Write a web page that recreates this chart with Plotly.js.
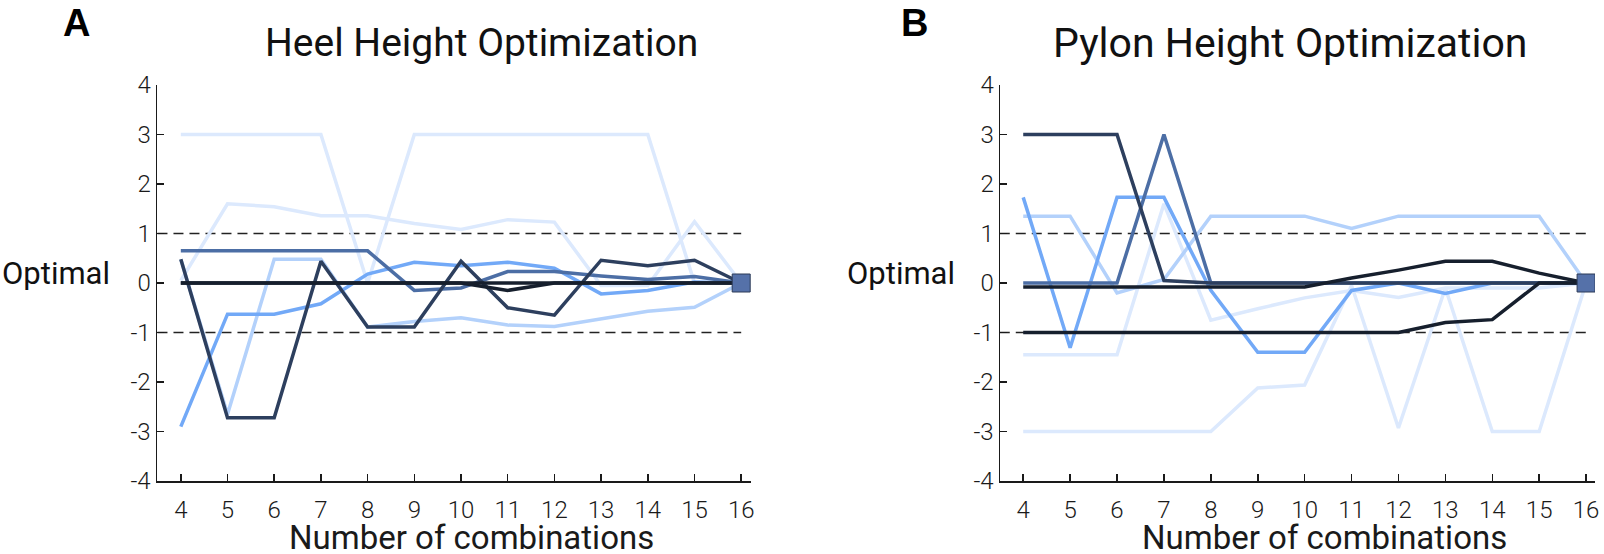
<!DOCTYPE html>
<html>
<head>
<meta charset="utf-8">
<script src="https://cdn.plot.ly/plotly-3.0.1.min.js"></script>
<style>html,body{margin:0;padding:0;background:#fff;}#chart{width:1604px;height:554px;}</style>
</head>
<body>
<div id="chart"></div>
<script>
// ---------- data ----------
const combos = [4,5,6,7,8,9,10,11,12,13,14,15,16];

// Panel A: Heel height (deviation from optimal)
const heelVeryLightA = [3.0, 3.0, 3.0, 3.0, 0.0, 3.0, 3.0, 3.0, 3.0, 3.0, 3.0, 0.0, 0.0];
const heelVeryLightB = [0.05, 1.6, 1.54, 1.36, 1.36, 1.2, 1.08, 1.28, 1.23, -0.05, -0.05, 1.24, 0.0];
const heelLight      = [0.48, -2.65, 0.48, 0.48, -0.89, -0.78, -0.7, -0.85, -0.88, -0.73, -0.57, -0.49, 0.0];
const heelBright     = [-2.9, -0.63, -0.63, -0.42, 0.18, 0.42, 0.35, 0.42, 0.3, -0.22, -0.15, 0.02, 0.0];
const heelSteel      = [0.65, 0.65, 0.65, 0.65, 0.65, -0.15, -0.1, 0.23, 0.23, 0.14, 0.07, 0.13, 0.0];
const heelNavy       = [0.48, -2.72, -2.72, 0.44, -0.89, -0.89, 0.44, -0.5, -0.65, 0.46, 0.35, 0.46, 0.0];
const heelBlackA     = [0, 0, 0, 0, 0, 0, 0, -0.15, 0, 0, 0, 0, 0];
const heelBlackB     = [0, 0, 0, 0, 0, 0, 0, 0, 0, 0, 0, 0, 0];

// Panel B: Pylon height (deviation from optimal)
const pylonVeryLightA = [-1.45, -1.45, -1.45, 1.6, -0.75, -0.52, -0.3, -0.15, -0.29, -0.1, -0.1, -0.1, 0.0];
const pylonVeryLightB = [-3.0, -3.0, -3.0, -3.0, -3.0, -2.12, -2.06, -0.05, -2.93, -0.1, -3.0, -3.0, 0.0];
const pylonLight      = [1.35, 1.35, -0.2, 0.07, 1.35, 1.35, 1.35, 1.1, 1.35, 1.35, 1.35, 1.35, 0.0];
const pylonBright     = [1.73, -1.31, 1.73, 1.73, -0.15, -1.4, -1.4, -0.15, 0.0, -0.21, 0.0, 0.0, 0.0];
const pylonSteel      = [0, 0, 0, 3.0, 0, 0, 0, 0, 0, 0, 0, 0, 0];
const pylonNavy       = [3.0, 3.0, 3.0, 0.05, 0, 0, 0, 0, 0, 0, 0, 0, 0];
const pylonBlackA     = [-1.0, -1.0, -1.0, -1.0, -1.0, -1.0, -1.0, -1.0, -1.0, -0.8, -0.74, 0.0, 0.0];
const pylonBlackB     = [-0.08, -0.08, -0.08, -0.08, -0.08, -0.08, -0.08, 0.1, 0.26, 0.44, 0.44, 0.2, 0.0];

const optimumX = [16];
const optimumY = [0];

const yTickVals = [-4, -3, -2, -1, 0, 1, 2, 3, 4];
const yTickText = ["-4", "-3", "-2", "-1", "0", "1", "2", "3", "4"];
const xTickVals = combos;
const tolerance = [-1, 1];

const panelTitles = ["Heel Height Optimization", "Pylon Height Optimization"];
const panelLetters = ["A", "B"];
const xTitle = "Number of combinations";
const optimalLabel = "Optimal";

// ---------- style ----------
const C = {
  vlight: '#dce9fd',
  light: '#b3d1fb',
  bright: '#72a9f7',
  steel: '#4c6ea5',
  navy: '#2d3f5e',
  black: '#161f2d'
};
const W = 1604, H = 554;
const px = x => x / W;
const py = y => 1 - y / H;

function line(x, y, color, width, xa, ya) {
  return {x: x, y: y, type: 'scatter', mode: 'lines', xaxis: xa, yaxis: ya,
          line: {color: color, width: width}, hoverinfo: 'skip', showlegend: false};
}

const panelA = [
  [heelVeryLightA, C.vlight], [heelVeryLightB, C.vlight], [heelLight, C.light],
  [heelBright, C.bright], [heelSteel, C.steel], [heelNavy, C.navy],
  [heelBlackA, C.black], [heelBlackB, C.black]
];
const panelB = [
  [pylonVeryLightA, C.vlight], [pylonVeryLightB, C.vlight], [pylonLight, C.light],
  [pylonBright, C.bright], [pylonSteel, C.steel], [pylonNavy, C.navy],
  [pylonBlackA, C.black], [pylonBlackB, C.black]
];

const traces = [];
panelA.forEach(p => traces.push(line(combos, p[0], p[1], 3.5, 'x', 'y')));
panelB.forEach(p => traces.push(line(combos, p[0], p[1], 3.5, 'x2', 'y2')));
['x', 'x2'].forEach((xa, i) => {
  traces.push({x: optimumX, y: optimumY, type: 'scatter', mode: 'markers',
    xaxis: xa, yaxis: i ? 'y2' : 'y', hoverinfo: 'skip', showlegend: false,
    marker: {symbol: 'square', size: 18, color: '#5571a9', line: {color: '#2c3b57', width: 1}}});
});

const tickFont = {family: 'Roboto', size: 24, color: '#1a1a1a', weight: 300};
function xAxis(domain, range) {
  return {domain: domain, range: range, tickvals: xTickVals, ticks: 'inside', ticklen: 7,
    tickwidth: 1.5, tickcolor: '#1a1a1a', showline: true, linecolor: '#1a1a1a', linewidth: 1.5,
    showgrid: false, zeroline: false, tickfont: tickFont, fixedrange: true, ticklabelstandoff: 7};
}
function yAxis(anchor) {
  return {domain: [py(481), py(85)], range: [-4, 4], anchor: anchor, tickvals: yTickVals,
    ticktext: yTickText, ticks: 'inside', ticklen: 7, tickwidth: 1.5, tickcolor: '#1a1a1a',
    showline: true, linecolor: '#1a1a1a', linewidth: 1.5, showgrid: false, zeroline: false,
    tickfont: tickFont, fixedrange: true};
}

const shapes = [];
[['x', 'y'], ['x2', 'y2']].forEach(a => {
  tolerance.forEach(v => shapes.push({type: 'line', xref: a[0], yref: a[1], x0: 3.5, x1: 16, y0: v, y1: v,
    line: {color: '#222', width: 1.7, dash: '10px,6px'}, layer: 'below'}));
});

const annFont = (size, extra) => Object.assign({family: 'Roboto', size: size, color: '#111'}, extra || {});
const letterFont = {family: 'Liberation Sans, Arial', size: 38, color: '#000', weight: 700};
const annotations = [
  {text: panelLetters[0], x: px(76), y: 1, yanchor: 'top', font: letterFont},
  {text: panelLetters[1], x: px(914), y: 1, yanchor: 'top', font: letterFont},
  {text: panelTitles[0], x: px(481), y: py(43), font: annFont(39)},
  {text: panelTitles[1], x: px(1290), y: py(43), font: annFont(41)},
  {text: optimalLabel, x: px(56), y: py(274), font: annFont(31)},
  {text: optimalLabel, x: px(901), y: py(274), font: annFont(31)},
  {text: xTitle, x: px(471), y: py(537), font: annFont(33, {color: '#1a1a1a'})},
  {text: xTitle, x: px(1324), y: py(537), font: annFont(33, {color: '#1a1a1a'})}
].map(a => Object.assign({xref: 'paper', yref: 'paper', xanchor: 'center', yanchor: 'middle', showarrow: false}, a));

const layout = {
  width: W, height: H, margin: {l: 0, r: 0, t: 0, b: 0},
  paper_bgcolor: '#fff', plot_bgcolor: '#fff', showlegend: false,
  xaxis: xAxis([px(157), px(751)], [3.49, 16.21]),
  yaxis: yAxis('x'),
  xaxis2: Object.assign(xAxis([px(1000), px(1595)], [3.505, 16.19]), {anchor: 'y2'}),
  yaxis2: yAxis('x2'),
  shapes: shapes,
  annotations: annotations
};
layout.xaxis.anchor = 'y';

Plotly.newPlot('chart', traces, layout, {staticPlot: true, displayModeBar: false});
</script>
</body>
</html>
